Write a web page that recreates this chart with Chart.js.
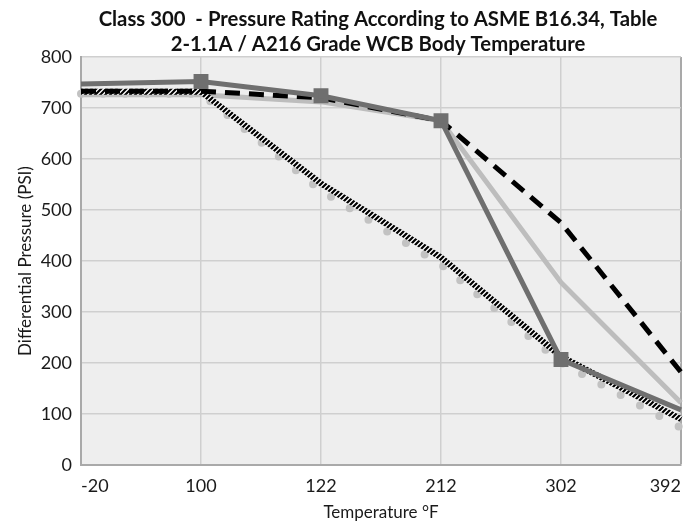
<!DOCTYPE html>
<html>
<head>
<meta charset="utf-8">
<script src="https://cdn.jsdelivr.net/npm/chart.js@4/dist/chart.umd.min.js"></script>
<style>
  body{margin:0;background:#fff;}
  #wrap{width:696px;height:525px;}
</style>
</head>
<body>
<div id="wrap"><canvas id="grafica" width="696" height="525"></canvas></div>
<script>
// DATOS DE LA GRAFICA
const temperaturas = ['-20','100','122','212','302','392']
const serieOscura = [747, 752, 724, 675, 207, 108]
const serieRayas = [733, 733, 720, 675, 475, 182]
const serieClara = [726, 726, 712, 675, 358, 122]
const serieTrama = [732, 732, 552, 407, 213, 90]
const seriePuntos = [728, 728, 538, 393, 201, 73]
const ticksY = [0,100,200,300,400,500,600,700,800]
const titulo = ['Class 300  - Pressure Rating According to ASME B16.34, Table','2-1.1A / A216 Grade WCB Body Temperature']

const fuente = 'Lato, "Open Sans", sans-serif'

// trama diagonal negra sobre blanco
function trama(ctx){
    var n = 5
    var c = document.createElement('canvas')
    c.width = n; c.height = n
    var t = c.getContext('2d')
    t.fillStyle = '#fff'
    t.fillRect(0,0,n,n)
    t.strokeStyle = '#000'
    t.lineWidth = 2.2
    t.beginPath()
    t.moveTo(0,n); t.lineTo(n,0)
    t.moveTo(-1,1); t.lineTo(1,-1)
    t.moveTo(n-1,n+1); t.lineTo(n+1,n-1)
    t.stroke()
    return ctx.createPattern(c,'repeat')
}

// fondo gris del area de trazado
const fondoArea = {
    id:'fondoArea',
    beforeDraw(chart){
        const {ctx, chartArea:a} = chart
        ctx.save()
        ctx.fillStyle = '#eeeeee'
        ctx.fillRect(a.left, a.top, a.right-a.left, a.bottom-a.top)
        ctx.restore()
    }
}

// titulo centrado sobre el area de trazado
const tituloArea = {
    id:'tituloArea',
    afterDraw(chart){
        const ctx = chart.ctx
        ctx.save()
        ctx.font = 'bold 19px ' + fuente
        var ancho = ctx.measureText(titulo[0]).width
        var tam = 19 * 559 / ancho
        ctx.font = 'bold ' + tam.toFixed(2) + 'px ' + fuente
        ctx.fillStyle = '#111'
        ctx.textAlign = 'center'
        ctx.textBaseline = 'middle'
        ctx.fillText(titulo[0], 378, 19)
        ctx.fillText(titulo[1], 378, 44)
        ctx.restore()
    }
}

const lienzo = document.getElementById('grafica')
const ctx = lienzo.getContext('2d')

var grafica = new Chart(ctx, {
    type:'line',
    data:{
        labels: temperaturas,
        datasets:[
            {
                label:'Oscura',
                data: serieOscura,
                borderColor:'#6f6f6f',
                backgroundColor:'#6f6f6f',
                borderWidth:5,
                pointStyle:'rect',
                pointRadius:[0,7,7,7,7,0],
                tension:0,
                order:1
            },
            {
                label:'Rayas',
                data: serieRayas,
                borderColor:'#000',
                borderWidth:5,
                borderDash:[15,9],
                pointRadius:0,
                tension:0,
                order:2
            },
            {
                label:'Trama',
                data: serieTrama,
                borderColor: trama(ctx),
                borderWidth:6,
                pointRadius:0,
                tension:0,
                order:3
            },
            {
                label:'Puntos',
                data: seriePuntos,
                borderColor:'#c2c2c2',
                borderWidth:8,
                borderDash:[0,22],
                borderCapStyle:'round',
                pointRadius:0,
                tension:0,
                order:4
            },
            {
                label:'Clara',
                data: serieClara,
                borderColor:'#bdbdbd',
                borderWidth:5,
                pointRadius:0,
                tension:0,
                order:5
            }
        ]
    },
    options:{
        responsive:false,
        animation:false,
        layout:{ padding:{ top:57, right:15, left:0, bottom:0 } },
        plugins:{
            legend:{ display:false },
            tooltip:{ enabled:false },
            title:{ display:false }
        },
        scales:{
            x:{
                offset:false,
                grid:{
                    color:(c)=> c.index===temperaturas.length-1 ? '#a9a9a9' : '#cfcfcf',
                    lineWidth:(c)=> c.index===temperaturas.length-1 ? 2 : 1.5,
                    drawTicks:false
                },
                border:{ color:'#a9a9a9', width:2 },
                ticks:{
                    align:'inner',
                    maxRotation:0,
                    padding:10,
                    color:'#1a1a1a',
                    font:{ family:fuente, size:18 }
                },
                title:{
                    display:true,
                    text:'Temperature °F',
                    color:'#1a1a1a',
                    font:{ family:fuente, size:17 },
                    padding:{ top:0, bottom:2 }
                },
                afterFit:(s)=>{ s.height = 60 }
            },
            y:{
                min:0,
                max:800,
                afterBuildTicks:(s)=>{ s.ticks = ticksY.map(v=>({value:v})) },
                grid:{ color:'#cfcfcf', lineWidth:1.5, drawTicks:false },
                border:{ color:'#a9a9a9', width:2 },
                ticks:{
                    padding:9,
                    color:'#1a1a1a',
                    font:{ family:fuente, size:18 }
                },
                title:{
                    display:true,
                    text:'Differential Pressure (PSI)',
                    color:'#1a1a1a',
                    font:{ family:fuente, size:17 },
                    padding:{ top:15, bottom:0 }
                },
                afterFit:(s)=>{ s.width = 81 }
            }
        }
    },
    plugins:[fondoArea, tituloArea]
})
</script>
</body>
</html>
